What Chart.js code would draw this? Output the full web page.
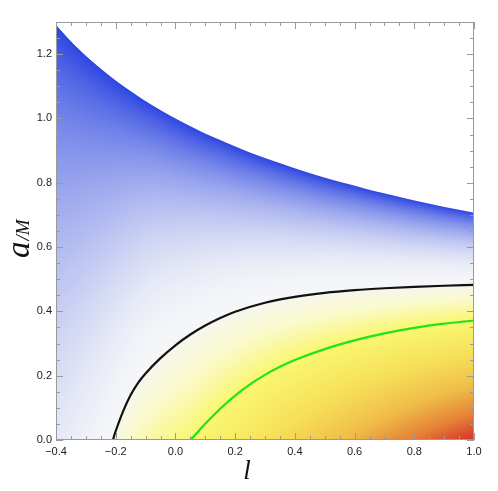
<!DOCTYPE html>
<html>
<head>
<meta charset="utf-8">
<script src="https://cdn.jsdelivr.net/npm/chart.js@4.4.0/dist/chart.umd.min.js"></script>
<style>
html, body { margin: 0; background: #fff; }
#wrap { width: 498px; height: 491px; }
</style>
</head>
<body>
<div id="wrap"><canvas id="myChart"></canvas></div>
<script>
// values
const upperL = [-0.4, -0.35, -0.3, -0.25, -0.2, -0.15, -0.1, -0.05, 0.0, 0.05, 0.1, 0.15, 0.2, 0.25, 0.3, 0.35, 0.4, 0.45, 0.5, 0.55, 0.6, 0.65, 0.7, 0.75, 0.8, 0.85, 0.9, 0.95, 1.0];
const upperA = [1.291, 1.240, 1.195, 1.155, 1.118, 1.085, 1.054, 1.026, 1.0, 0.976, 0.953, 0.933, 0.913, 0.894, 0.877, 0.861, 0.845, 0.830, 0.816, 0.803, 0.791, 0.778, 0.767, 0.756, 0.745, 0.735, 0.725, 0.716, 0.707];

const blackL = [-0.209, -0.205, -0.2, -0.175, -0.15, -0.125, -0.1, -0.05, 0.0, 0.05, 0.1, 0.15, 0.2, 0.3, 0.4, 0.5, 0.6, 0.7, 0.8, 0.9, 1.0];
const blackA = [0.0, 0.0136, 0.028, 0.09, 0.14, 0.178, 0.207, 0.2545, 0.2945, 0.328, 0.356, 0.3795, 0.399, 0.427, 0.445, 0.4575, 0.466, 0.472, 0.4765, 0.4798, 0.4823];

const greenL = [0.051, 0.075, 0.1, 0.15, 0.2, 0.25, 0.3, 0.35, 0.4, 0.5, 0.6, 0.7, 0.8, 0.9, 1.0];
const greenA = [0.0, 0.0252, 0.0502, 0.0972, 0.1382, 0.1732, 0.2027, 0.2277, 0.2487, 0.2827, 0.3097, 0.3317, 0.3487, 0.3617, 0.3717];

const xTicks = [-0.4, -0.2, 0.0, 0.2, 0.4, 0.6, 0.8, 1.0];
const yTicks = [0.0, 0.2, 0.4, 0.6, 0.8, 1.0, 1.2];

const toPts = (xs, ys) => xs.map((v, i) => ({x: v, y: ys[i]}));

// smooth (cubic Hermite) reading of a tabulated curve
function interp(xs, ys, x) {
    const n = xs.length;
    if (x <= xs[0]) return ys[0];
    if (x >= xs[n - 1]) return ys[n - 1];
    let i = 1;
    while (x > xs[i]) i++;
    const x0 = xs[i - 1], x1 = xs[i], y0 = ys[i - 1], y1 = ys[i];
    const h = x1 - x0, s = (x - x0) / h;
    const d = (a, b) => (ys[b] - ys[a]) / (xs[b] - xs[a]);
    const m0 = i - 1 > 0 ? d(i - 2, i) : d(i - 1, i);
    const m1 = i < n - 1 ? d(i - 1, i + 1) : d(i - 1, i);
    const h00 = 2 * s * s * s - 3 * s * s + 1, h10 = s * s * s - 2 * s * s + s;
    const h01 = -2 * s * s * s + 3 * s * s, h11 = s * s * s - s * s;
    return h00 * y0 + h10 * h * m0 + h01 * y1 + h11 * h * m1;
}

function curveAt(xs, ys, x, slope) {
    if (x < xs[0]) return (x - xs[0]) * slope;
    return interp(xs, ys, x);
}

// where the blue wash fades out (follows the black curve on the right)
const fadeL = [-0.4, -0.3, -0.2, -0.15, -0.1, -0.05, 0.0, 0.05, 0.1, 0.2, 0.3, 0.5, 0.7, 1.0];
const fadeA = [-0.6, -0.28, 0.0, 0.11, 0.2, 0.26, 0.2945, 0.328, 0.356, 0.399, 0.427, 0.4575, 0.472, 0.4823];

const warmStops = [
    [0.0, 246, 246, 240],
    [0.2, 250, 250, 206],
    [0.45, 250, 246, 112],
    [0.6, 246, 224, 88],
    [0.75, 240, 188, 72],
    [0.88, 228, 128, 55],
    [1.0, 214, 46, 38]
];
function warmColor(w) {
    w = Math.max(0, Math.min(1, w));
    for (let i = 1; i < warmStops.length; i++) {
        if (w <= warmStops[i][0]) {
            const a = warmStops[i - 1], b = warmStops[i];
            const f = (w - a[0]) / (b[0] - a[0]);
            return [a[1] + f * (b[1] - a[1]), a[2] + f * (b[2] - a[2]), a[3] + f * (b[3] - a[3])];
        }
    }
    return warmStops[warmStops.length - 1].slice(1);
}
function blueColor(t) {
    t = Math.max(0, Math.min(1, t));
    const k = 0.88 * Math.pow(t, 2.1) + 0.12 * Math.pow(t, 10);
    return [245 + k * (45 - 245), 246 + k * (70 - 246), 248 + k * (225 - 248)];
}
const bottomL = [0.05, 0.2, 0.4, 0.6, 0.8, 1.0];
const bottomW = [0.46, 0.53, 0.65, 0.77, 0.89, 1.0];

const shading = {
    id: 'shading',
    beforeDatasetsDraw(chart) {
        const ctx = chart.ctx, ca = chart.chartArea;
        const xs = chart.scales.x, ys = chart.scales.y;
        const w = Math.round(ca.right - ca.left), h = Math.round(ca.bottom - ca.top);
        const off = document.createElement('canvas');
        off.width = w; off.height = h;
        const octx = off.getContext('2d');
        const img = octx.createImageData(w, h);
        for (let i = 0; i < w; i++) {
            const l = xs.getValueForPixel(ca.left + i + 0.5);
            const up = interp(upperL, upperA, l);
            const upPx = ys.getPixelForValue(up);
            const bl = curveAt(blackL, blackA, l, 1.5);
            const fade = interp(fadeL, fadeA, l);
            const gr = curveAt(greenL, greenA, l, 0.9);
            const bw = interp(bottomL, bottomW, l);
            for (let j = 0; j < h; j++) {
                const py = ca.top + j + 0.5;
                const cover = Math.min(1, Math.max(0, py - upPx + 0.5));
                if (cover <= 0) continue;
                const a = ys.getValueForPixel(py);
                let c;
                if (a >= bl) {
                    c = blueColor((a - fade) / (up - fade));
                } else if (a >= gr || gr <= 0) {
                    c = warmColor(0.45 * Math.pow((bl - a) / (bl - gr), 0.85));
                } else {
                    c = warmColor(0.45 + (gr - a) / gr * (bw - 0.45));
                }
                const k = (j * w + i) * 4;
                img.data[k] = c[0];
                img.data[k + 1] = c[1];
                img.data[k + 2] = c[2];
                img.data[k + 3] = Math.round(cover * 255);
            }
        }
        octx.putImageData(img, 0, 0);
        ctx.drawImage(off, ca.left, ca.top);
    }
};

const frame = {
    id: 'frame',
    afterDraw(chart) {
        const ctx = chart.ctx, ca = chart.chartArea;
        const xs = chart.scales.x, ys = chart.scales.y;
        ctx.save();
        ctx.strokeStyle = '#9a9a9a';
        ctx.lineWidth = 1;
        ctx.strokeRect(ca.left + 0.5, ca.top + 0.5, ca.right - ca.left - 1, ca.bottom - ca.top - 1);
        ctx.beginPath();
        for (let v = -0.4; v <= 1.0001; v += 0.05) {
            const px = Math.round(xs.getPixelForValue(v)) + 0.5;
            const major = Math.abs(v * 5 - Math.round(v * 5)) < 1e-6;
            const len = major ? 7 : 4;
            ctx.moveTo(px, ca.bottom); ctx.lineTo(px, ca.bottom - len);
            ctx.moveTo(px, ca.top); ctx.lineTo(px, ca.top + len);
        }
        for (let v = 0; v <= 1.3001; v += 0.05) {
            const py = Math.round(ys.getPixelForValue(v)) + 0.5;
            const major = Math.abs(v * 5 - Math.round(v * 5)) < 1e-6;
            const len = major ? 7 : 4;
            ctx.moveTo(ca.left, py); ctx.lineTo(ca.left + len, py);
            ctx.moveTo(ca.right, py); ctx.lineTo(ca.right - len, py);
        }
        ctx.stroke();

        // axis titles
        ctx.fillStyle = '#111';
        ctx.textBaseline = 'alphabetic';
        ctx.font = 'italic 27px "Liberation Serif", "DejaVu Serif", serif';
        ctx.textAlign = 'center';
        ctx.fillText('l', 247, 479);

        ctx.translate(29, 258);
        ctx.rotate(-Math.PI / 2);
        ctx.textAlign = 'left';
        ctx.font = 'italic 33px "Liberation Serif", "DejaVu Serif", serif';
        ctx.fillText('a', 0, 0);
        const aw = ctx.measureText('a').width;
        ctx.font = 'italic 19px "Liberation Serif", "DejaVu Serif", serif';
        ctx.fillText('/M', aw + 1, 0);
        ctx.restore();
    }
};

const fmt = v => Number(v).toFixed(1).replace('-', '\u2212');

var ctx = document.getElementById('myChart').getContext('2d');

var myChart = new Chart(ctx, {
    type: 'scatter',
    data: {
        datasets: [
            {
                label: 'upper',
                data: toPts(upperL, upperA),
                showLine: true,
                borderWidth: 0,
                borderColor: 'rgba(0,0,0,0)',
                pointRadius: 0
            },
            {
                label: 'black',
                data: toPts(blackL, blackA),
                showLine: true,
                borderColor: '#111111',
                borderWidth: 2.2,
                pointRadius: 0,
                cubicInterpolationMode: 'monotone'
            },
            {
                label: 'green',
                data: toPts(greenL, greenA),
                showLine: true,
                borderColor: '#1de41d',
                borderWidth: 2.2,
                pointRadius: 0,
                cubicInterpolationMode: 'monotone'
            }
        ]
    },
    options: {
        responsive: true,
        maintainAspectRatio: false,
        animation: false,
        layout: { padding: { left: 0, right: 24, top: 22, bottom: 0 } },
        plugins: {
            legend: { display: false },
            tooltip: { enabled: false }
        },
        scales: {
            x: {
                type: 'linear',
                min: -0.4,
                max: 1.0,
                afterBuildTicks: s => { s.ticks = xTicks.map(v => ({value: v})); },
                afterFit: s => { s.height = 51; },
                grid: { display: false, drawTicks: false },
                border: { display: false },
                ticks: {
                    padding: 5,
                    color: '#222',
                    font: { family: '"Liberation Sans", Arial, sans-serif', size: 11 },
                    callback: v => fmt(v)
                }
            },
            y: {
                type: 'linear',
                min: 0,
                max: 1.3,
                afterBuildTicks: s => { s.ticks = yTicks.map(v => ({value: v})); },
                afterFit: s => { s.width = 56; },
                grid: { display: false, drawTicks: false },
                border: { display: false },
                ticks: {
                    padding: 4,
                    color: '#222',
                    font: { family: '"Liberation Sans", Arial, sans-serif', size: 11 },
                    callback: v => fmt(v)
                }
            }
        }
    },
    plugins: [shading, frame]
});
</script>
</body>
</html>
